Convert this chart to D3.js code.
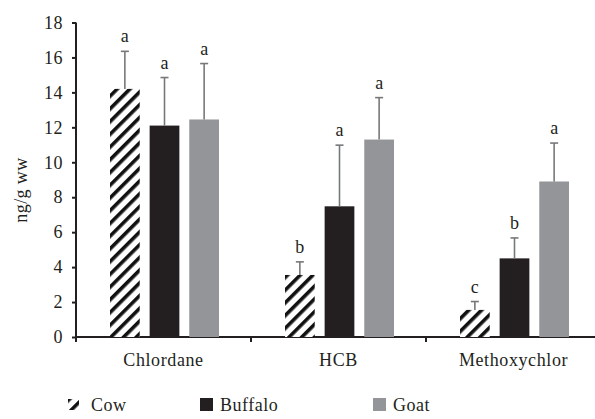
<!DOCTYPE html>
<html><head><meta charset="utf-8">
<script src="https://cdn.jsdelivr.net/npm/d3@7"></script>
<style>body{margin:0;background:#fff}svg text{font-family:'Liberation Serif','DejaVu Serif',serif !important;fill:#231f20}</style>
</head><body>
<script>
const categories = ["Chlordane", "HCB", "Methoxychlor"];
const series = ["Cow", "Buffalo", "Goat"];
const cowValues = [14.2, 3.55, 1.55];
const cowErrors = [2.15, 0.75, 0.48];
const cowLetters = ["a", "b", "c"];
const buffaloValues = [12.1, 7.48, 4.5];
const buffaloErrors = [2.75, 3.5, 1.17];
const buffaloLetters = ["a", "a", "b"];
const goatValues = [12.45, 11.3, 8.9];
const goatErrors = [3.2, 2.4, 2.2];
const goatLetters = ["a", "a", "a"];
const yTicks = [0, 2, 4, 6, 8, 10, 12, 14, 16, 18];

const W = 595, H = 419;
const FF = "'Liberation Serif', 'DejaVu Serif', serif";
const svg = d3.select("body").append("svg").attr("width", W).attr("height", H);

const defs = svg.append("defs");
const pat = defs.append("pattern").attr("id", "hatch").attr("patternUnits", "userSpaceOnUse")
  .attr("width", 9).attr("height", 9).attr("patternTransform", "rotate(45)");
pat.append("rect").attr("width", 9).attr("height", 9).attr("fill", "#fff");
pat.append("rect").attr("x", 0).attr("y", 0).attr("width", 3.6).attr("height", 9).attr("fill", "#111");

const fills = {Cow: "url(#hatch)", Buffalo: "#231f20", Goat: "#939598"};
const data = {
  Cow: {v: cowValues, e: cowErrors, l: cowLetters},
  Buffalo: {v: buffaloValues, e: buffaloErrors, l: buffaloLetters},
  Goat: {v: goatValues, e: goatErrors, l: goatLetters}
};

const x0 = d3.scaleBand().domain(categories).range([76, 601]).paddingInner(0).paddingOuter(0);
const x1 = d3.scaleBand().domain(series).range([34, 143]).paddingInner(0.25).paddingOuter(0);
const y = d3.scaleLinear().domain([0, 18]).range([337, 22.5]);

// y axis
const yAxis = d3.axisLeft(y).tickValues(yTicks).tickSize(4).tickPadding(9);
const yg = svg.append("g").attr("transform", "translate(76,0)").call(yAxis);
yg.attr("font-family", FF);
yg.select(".domain").attr("stroke", "#231f20").attr("stroke-width", 2).attr("d", "M0,337V22.5");
yg.selectAll(".tick line").attr("stroke", "#231f20").attr("stroke-width", 2);
yg.selectAll(".tick text").attr("font-size", 18).style("font-family", FF).attr("fill", "#231f20")
  .style("letter-spacing", "0.5px");

// x axis
const xg = svg.append("g").attr("transform", "translate(0,337)");
xg.append("line").attr("x1", 76).attr("x2", 598).attr("stroke", "#231f20").attr("stroke-width", 2);
categories.forEach(c => {
  xg.append("line").attr("x1", x0(c)).attr("x2", x0(c)).attr("y1", 0).attr("y2", 5)
    .attr("stroke", "#231f20").attr("stroke-width", 2);
  xg.append("text").attr("x", x0(c) + x0.bandwidth() / 2).attr("y", 29)
    .attr("text-anchor", "middle").attr("font-size", 18).style("font-family", FF)
    .style("letter-spacing", "0.6px").text(c);
});

// bars
series.forEach(s => {
  categories.forEach((c, i) => {
    const v = data[s].v[i], e = data[s].e[i];
    const bx = x0(c) + x1(s), bw = x1.bandwidth();
    svg.append("rect").attr("x", bx).attr("y", y(v)).attr("width", bw).attr("height", y(0) - y(v))
      .attr("fill", fills[s]);
    const cx = bx + bw / 2;
    svg.append("line").attr("x1", cx).attr("x2", cx).attr("y1", y(v)).attr("y2", y(v + e))
      .attr("stroke", "#77787b").attr("stroke-width", 1.6);
    svg.append("line").attr("x1", cx - 4).attr("x2", cx + 4).attr("y1", y(v + e)).attr("y2", y(v + e))
      .attr("stroke", "#77787b").attr("stroke-width", 1.6);
    svg.append("text").attr("x", cx).attr("y", y(v + e) - 9).attr("text-anchor", "middle")
      .attr("font-size", 18).style("font-family", FF).text(data[s].l[i]);
  });
});

// y label
svg.append("text").attr("transform", "translate(27,190) rotate(-90)").attr("text-anchor", "middle")
  .attr("font-size", 18).style("font-family", FF).style("letter-spacing", "0.4px").text("ng/g ww");

// legend
const legX = {Cow: 68, Buffalo: 200, Goat: 373};
series.forEach(s => {
  const g = svg.append("g").attr("transform", `translate(${legX[s]},398)`);
  if (s === "Cow") {
    g.append("rect").attr("y", 1).attr("width", 11).attr("height", 11).attr("fill", "url(#hatch)");
  } else {
    g.append("rect").attr("width", 13).attr("height", 13).attr("fill", fills[s]);
  }
  g.append("text").attr("x", s === "Cow" ? 23 : 20).attr("y", 13).attr("font-size", 18)
    .style("font-family", FF).style("letter-spacing", "0.5px").text(s);
});
</script>
</body></html>
